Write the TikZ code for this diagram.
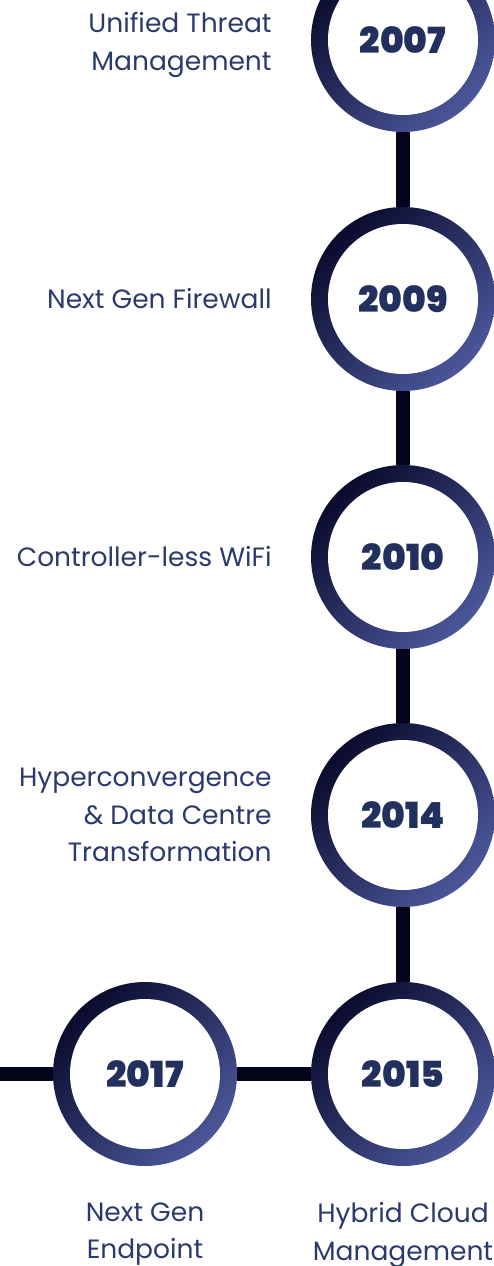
\documentclass[tikz,border=0pt]{standalone}
\usepackage{fontspec}
\setmainfont{Poppins}
\newfontfamily\yearfont{Poppins}[UprightFont=* Black]
\usetikzlibrary{positioning,backgrounds}
\definecolor{ringdark}{HTML}{0A0B2D}
\definecolor{ringlight}{HTML}{4B579A}
\definecolor{linkcol}{HTML}{04041A}
\definecolor{yearcol}{HTML}{22305E}
\definecolor{textcol}{HTML}{2B3A6C}

\begin{document}
\begin{tikzpicture}[x=1pt,y=-1pt,
    yearring/.style={circle,minimum size=184pt,inner sep=0pt,
        top color=ringdark,bottom color=ringlight,shading angle=45,
        path picture={\fill[white] (path picture bounding box.center) circle (75pt);},
        text=yearcol,font=\fontsize{36}{36}\selectfont\yearfont},
    link/.style={linkcol,line width=14pt},
    milestone/.style={text=textcol,inner sep=0pt,font=\fontsize{26.5}{37.5}\selectfont}]
                \useasboundingbox (0,0) rectangle (494,1266);

                \node[yearring] (y2007) at (403,40) {2007};
                \node[yearring] (y2009) at (403,299) {2009};
                \node[yearring] (y2010) at (403,557) {2010};
                \node[yearring] (y2014) at (403,815) {2014};
                \node[yearring] (y2015) at (403,1074) {2015};
                \node[yearring] (y2017) at (145,1074) {2017};
                \coordinate (lineend) at (0,1074);

                \begin{scope}[on background layer]
                \draw[link] (y2007) -- (y2009);
                \draw[link] (y2009) -- (y2010);
                \draw[link] (y2010) -- (y2014);
                \draw[link] (y2014) -- (y2015);
                \draw[link] (y2015) -- (y2017);
                \draw[link] (y2017) -- (lineend);
                \end{scope}

                \node[milestone,align=right,left=39pt of y2007,yshift=-5pt] (t2007) {Unified Threat\\Management};
                \node[milestone,align=right,left=39pt of y2009] (t2009) {Next Gen Firewall};
                \node[milestone,align=right,left=39pt of y2010] (t2010) {Controller-less WiFi};
                \node[milestone,align=right,left=39pt of y2014] (t2014) {Hyperconvergence\\\& Data Centre\\Transformation};
                \node[milestone,align=center,below=36pt of y2015] (t2015) {Hybrid Cloud\\Management};
                \node[milestone,align=center,below=36pt of y2017] (t2017) {Next Gen\\Endpoint};
\end{tikzpicture}
\end{document}
